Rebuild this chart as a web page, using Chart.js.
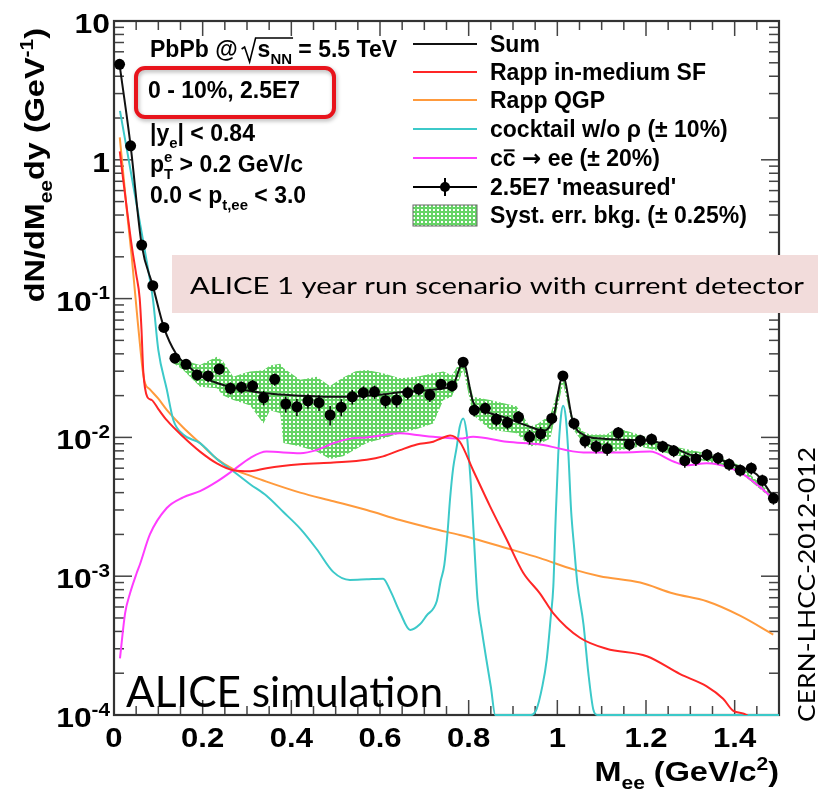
<!DOCTYPE html>
<html>
<head>
<meta charset="utf-8">
<script src="https://cdn.jsdelivr.net/npm/chart.js@4.4.1/dist/chart.umd.min.js"></script>
<style>
  body { margin: 0; background: #fff; }
  #wrap { width: 825px; height: 792px; position: relative; }
</style>
</head>
<body>
<div id="wrap"><canvas id="meeChart"></canvas></div>
<script>
// ---- data (M_ee in GeV/c2, dN/dMdy in 1/GeV) ----
const massBins = [
  0.0125, 0.0375, 0.0625, 0.0875, 0.1125, 0.1375, 0.1625, 0.1875, 0.2125, 0.2375,
  0.2625, 0.2875, 0.3125, 0.3375, 0.3625, 0.3875, 0.4125, 0.4375, 0.4625, 0.4875,
  0.5125, 0.5375, 0.5625, 0.5875, 0.6125, 0.6375, 0.6625, 0.6875, 0.7125, 0.7375,
  0.7625, 0.7875, 0.8125, 0.8375, 0.8625, 0.8875, 0.9125, 0.9375, 0.9625, 0.9875,
  1.0125, 1.0375, 1.0625, 1.0875, 1.1125, 1.1375, 1.1625, 1.1875, 1.2125, 1.2375,
  1.2625, 1.2875, 1.3125, 1.3375, 1.3625, 1.3875, 1.4125, 1.4375, 1.4625, 1.4875
];
const measured = [
  4.87, 1.26, 0.243, 0.124, 0.062, 0.0372, 0.0336, 0.0282, 0.0277, 0.0311,
  0.0226, 0.0230, 0.0235, 0.0193, 0.0262, 0.0174, 0.0166, 0.0183, 0.0178, 0.0145,
  0.0165, 0.0196, 0.0210, 0.0213, 0.0184, 0.0186, 0.0210, 0.0223, 0.0202, 0.0242,
  0.0235, 0.0348, 0.0157, 0.0162, 0.0135, 0.0128, 0.0140, 0.0101, 0.0106, 0.0137,
  0.0277, 0.0126, 0.0094, 0.0086, 0.0083, 0.0108, 0.0089, 0.0095, 0.0097, 0.0086,
  0.0080, 0.0068, 0.0070, 0.0075, 0.0071, 0.0064, 0.0058, 0.0060, 0.0049, 0.00364
];
// relative stat. error of each point
const measuredErr = [
  0.01, 0.02, 0.03, 0.04, 0.05, 0.07, 0.08, 0.09, 0.09, 0.09,
  0.10, 0.10, 0.10, 0.12, 0.10, 0.13, 0.14, 0.12, 0.13, 0.16,
  0.14, 0.12, 0.11, 0.11, 0.12, 0.12, 0.11, 0.10, 0.11, 0.09,
  0.09, 0.07, 0.10, 0.10, 0.11, 0.11, 0.10, 0.12, 0.12, 0.10,
  0.06, 0.10, 0.11, 0.11, 0.11, 0.10, 0.10, 0.10, 0.10, 0.10,
  0.10, 0.11, 0.11, 0.10, 0.10, 0.10, 0.10, 0.10, 0.10, 0.10
];

const sumM = [
  0.0125, 0.0375, 0.0625, 0.0875, 0.1125, 0.14, 0.17, 0.2, 0.25, 0.3,
  0.35, 0.4, 0.45, 0.5, 0.55, 0.6, 0.65, 0.7, 0.74, 0.765,
  0.7875, 0.81, 0.83, 0.88, 0.93, 0.97, 0.99, 1.0125, 1.035, 1.06,
  1.1, 1.15, 1.2, 1.25, 1.3, 1.35, 1.4, 1.45, 1.4875
];
const sumY = [
  4.87, 1.26, 0.243, 0.124, 0.062, 0.040, 0.032, 0.0272, 0.0237, 0.0218,
  0.0207, 0.0201, 0.0198, 0.0196, 0.0198, 0.0203, 0.0212, 0.0218, 0.0225, 0.0240,
  0.0348, 0.0180, 0.0158, 0.0140, 0.0122, 0.0112, 0.0135, 0.0277, 0.0130, 0.0104,
  0.0098, 0.0096, 0.0095, 0.0088, 0.0075, 0.0072, 0.0063, 0.0054, 0.0037
];

const rappSfM = [
  0.013, 0.02, 0.03, 0.04, 0.05, 0.058, 0.062, 0.066, 0.075, 0.085,
  0.1, 0.119, 0.156, 0.194, 0.232, 0.269, 0.307, 0.344, 0.42, 0.495,
  0.57, 0.607, 0.645, 0.683, 0.72, 0.74, 0.758, 0.78, 0.81, 0.848,
  0.886, 0.923, 0.961, 0.991, 1.051, 1.111, 1.202, 1.277, 1.337, 1.374,
  1.397, 1.427, 1.45
];
const rappSfY = [
  1.15, 0.75, 0.42, 0.24, 0.15, 0.10, 0.06, 0.030, 0.0196, 0.0186,
  0.016, 0.0133, 0.0101, 0.0079, 0.0065, 0.0058, 0.0057, 0.0060, 0.0064, 0.0066,
  0.0069, 0.0073, 0.0081, 0.0089, 0.0093, 0.0099, 0.0103, 0.0093, 0.0058, 0.0032,
  0.00183, 0.00106, 0.00075, 0.00054, 0.00036, 0.00030, 0.000265, 0.000197, 0.000161, 0.000131,
  0.000107, 0.0001, 0.00008
];

const rappQgpM = [
  0.013, 0.02, 0.03, 0.04, 0.053, 0.06, 0.065, 0.07, 0.081, 0.1,
  0.119, 0.156, 0.194, 0.232, 0.269, 0.307, 0.344, 0.42, 0.495, 0.57,
  0.645, 0.72, 0.78, 0.81, 0.886, 0.961, 1.036, 1.096, 1.187, 1.262,
  1.337, 1.412, 1.487
];
const rappQgpY = [
  1.45, 0.85, 0.40, 0.20, 0.071, 0.042, 0.030, 0.0245, 0.0222, 0.019,
  0.0158, 0.0118, 0.0091, 0.0070, 0.0059, 0.0053, 0.0048, 0.0040, 0.00347, 0.0030,
  0.00254, 0.0022, 0.00198, 0.00187, 0.00159, 0.00135, 0.00112, 0.00100, 0.00090, 0.00075,
  0.00066, 0.00052, 0.00038
];

const cocktailM = [
  0.0135, 0.03, 0.045, 0.06, 0.075, 0.088, 0.1, 0.119, 0.134, 0.156,
  0.194, 0.232, 0.269, 0.307, 0.344, 0.382, 0.42, 0.457, 0.495, 0.532,
  0.57, 0.607, 0.623, 0.645, 0.668, 0.69, 0.705, 0.728, 0.737, 0.745,
  0.752, 0.758, 0.765, 0.773, 0.78, 0.788, 0.795, 0.80, 0.807, 0.814,
  0.82, 0.83, 0.84, 0.85, 0.86, 0.94, 0.953, 0.966, 0.976, 0.985,
  0.991, 0.996, 1.002, 1.008, 1.013, 1.019, 1.025, 1.031, 1.038, 1.045,
  1.059, 1.07, 1.081, 1.09, 1.5
];
const cocktailY = [
  2.25, 1.14, 0.61, 0.33, 0.176, 0.098, 0.0426, 0.0222, 0.0133, 0.0105,
  0.0091, 0.0070, 0.0057, 0.0046, 0.0038, 0.0029, 0.0022, 0.00157, 0.00107, 0.00094,
  0.00095, 0.00096, 0.00079, 0.00055, 0.00041, 0.00045, 0.00052, 0.00066, 0.00093, 0.0012,
  0.002, 0.0036, 0.006, 0.0085, 0.012, 0.0137, 0.011, 0.0075, 0.0036, 0.0014,
  0.00068, 0.0004, 0.00025, 0.00016, 0.0001, 0.0001, 0.00011, 0.00016, 0.00025, 0.0005,
  0.00085, 0.0025, 0.0075, 0.014, 0.0169, 0.014, 0.0075, 0.003, 0.0016, 0.0009,
  0.00045, 0.0002, 0.00011, 0.0001, 0.0001
];

const charmM = [
  0.0135, 0.025, 0.036, 0.051, 0.059, 0.081, 0.119, 0.156, 0.194, 0.232,
  0.269, 0.307, 0.344, 0.42, 0.457, 0.495, 0.532, 0.57, 0.645, 0.683,
  0.72, 0.78, 0.81, 0.886, 0.961, 1.059, 1.149, 1.209, 1.262, 1.292,
  1.337, 1.36, 1.412, 1.457, 1.487
];
const charmY = [
  0.000256, 0.00054, 0.00075, 0.00105, 0.00123, 0.0020, 0.0031, 0.0037, 0.0041, 0.0048,
  0.0058, 0.0071, 0.0079, 0.0077, 0.0081, 0.0091, 0.0098, 0.0100, 0.0107, 0.0104,
  0.0101, 0.0098, 0.0101, 0.0093, 0.0089, 0.0078, 0.0078, 0.0079, 0.0067, 0.0063,
  0.0065, 0.0064, 0.0056, 0.0044, 0.0036
];

const bandM = [
  0.13, 0.156, 0.194, 0.232, 0.246, 0.269, 0.292, 0.307, 0.337, 0.352,
  0.375, 0.382, 0.42, 0.457, 0.487, 0.517, 0.545, 0.57, 0.607, 0.645,
  0.683, 0.72, 0.743, 0.762, 0.788, 0.81, 0.848, 0.908, 0.938, 0.955,
  0.984, 1.013, 1.036, 1.059, 1.074, 1.111, 1.134, 1.187, 1.262, 1.337,
  1.412, 1.484
];
const bandHi = [
  0.040, 0.036, 0.0332, 0.0381, 0.0353, 0.0274, 0.029, 0.0298, 0.0305, 0.033,
  0.034, 0.0316, 0.0260, 0.0274, 0.0235, 0.027, 0.030, 0.0306, 0.0290, 0.0267,
  0.0274, 0.0290, 0.0298, 0.028, 0.0381, 0.0196, 0.0186, 0.0168, 0.0120, 0.0125,
  0.0145, 0.0290, 0.0133, 0.0110, 0.0105, 0.0105, 0.0117, 0.0104, 0.0086, 0.0077,
  0.0063, 0.0039
];
const bandLo = [
  0.035, 0.0306, 0.0232, 0.0226, 0.020, 0.0186, 0.0176, 0.0170, 0.0126, 0.0157,
  0.0149, 0.0091, 0.0086, 0.0079, 0.0070, 0.0073, 0.0082, 0.0091, 0.0098, 0.0107,
  0.0115, 0.0126, 0.0186, 0.0196, 0.0306, 0.0145, 0.0114, 0.0107, 0.0086, 0.0088,
  0.0098, 0.0245, 0.0114, 0.0090, 0.0084, 0.0075, 0.0080, 0.0086, 0.0075, 0.0067,
  0.0056, 0.0036
];

const xTickValues = [0, 0.2, 0.4, 0.6, 0.8, 1.0, 1.2, 1.4];
const xTickText = ['0', '0.2', '0.4', '0.6', '0.8', '1', '1.2', '1.4'];
const yTickValues = [10, 1, 0.1, 0.01, 0.001, 0.0001];
const yTickBase = ['10', '1', '10', '10', '10', '10'];
const yTickExp = ['', '', '-1', '-2', '-3', '-4'];

const legendText = ['Sum', 'Rapp in-medium SF', 'Rapp QGP', 'cocktail w/o \u03c1 (\u00b1 10%)',
  'cc\u0304 \u2192 ee (\u00b1 20%)', "2.5E7 'measured'", 'Syst. err. bkg. (\u00b1 0.25%)'];

// ---- styling ----
const ROOT_FONT = '"Liberation Sans", Arial, Helvetica, sans-serif';
const CAL_FONT = 'Lato, "Open Sans", sans-serif';
const colSum = '#111111';
const colRed = '#ff2626';
const colOrange = '#ff9a3c';
const colCyan = '#3cc9c9';
const colMagenta = '#ff3cff';

function pts(xs, ys) {
  return xs.map(function (x, i) { return { x: x, y: ys[i] }; });
}

function makeHatch() {
  const c = document.createElement('canvas');
  c.width = 4; c.height = 4;
  const g = c.getContext('2d');
  g.fillStyle = '#66d466';
  g.fillRect(0, 0, 4, 4);
  g.fillStyle = '#ffffff';
  g.fillRect(1, 1, 2, 2);
  return g.createPattern(c, 'repeat');
}
const hatch = makeHatch();

// text with sub/superscripts, ROOT style
function drawRich(ctx, parts, x, y, size, opt) {
  opt = opt || {};
  const sx = opt.sx || 1;
  let w = 0;
  parts.forEach(function (p) {
    p.s = (p.sub || p.sup) ? size * 0.65 : size;
    p.f = 'bold ' + p.s + 'px ' + (p.font || ROOT_FONT);
    ctx.font = p.f;
    p.w = ctx.measureText(p.t).width;
    if (!p.stack) w += p.w;
  });
  ctx.save();
  ctx.translate(x, y);
  if (opt.rot) ctx.rotate(opt.rot);
  ctx.scale(sx, 1);
  ctx.fillStyle = '#000';
  ctx.strokeStyle = '#000';
  ctx.textAlign = 'left';
  ctx.textBaseline = 'alphabetic';
  let cx = opt.align === 'right' ? -w : (opt.align === 'center' ? -w / 2 : 0);
  parts.forEach(function (p) {
    ctx.font = p.f;
    const dy = p.sub ? size * 0.3 : (p.sup ? -size * 0.42 : 0);
    ctx.fillText(p.t, cx, dy);
    if (p.over) {
      ctx.lineWidth = 2;
      line(ctx, cx + 1, dy - size * 0.68, cx + p.w - 1, dy - size * 0.68);
    }
    if (!p.stack) cx += p.w;
  });
  ctx.restore();
  return w * sx;
}

// slide-style text stretched to the width seen in the picture
function drawWide(ctx, text, x, y, size, width, rot) {
  ctx.save();
  ctx.font = size + 'px ' + CAL_FONT;
  const w = ctx.measureText(text).width;
  ctx.translate(x, y);
  if (rot) ctx.rotate(rot);
  ctx.scale(width / w, 1);
  ctx.fillStyle = '#000';
  ctx.textAlign = 'left';
  ctx.textBaseline = 'alphabetic';
  ctx.fillText(text, 0, 0);
  ctx.restore();
}

function line(ctx, x1, y1, x2, y2) {
  ctx.beginPath();
  ctx.moveTo(x1, y1);
  ctx.lineTo(x2, y2);
  ctx.stroke();
}

const frameTicks = {
  id: 'frameTicks',
  beforeDatasetsDraw(chart) {
    const ctx = chart.ctx;
    const a = chart.chartArea;
    const x = chart.scales.x, y = chart.scales.y;
    ctx.save();
    ctx.strokeStyle = '#444';
    ctx.lineWidth = 1.5;
    for (let i = 0; i <= 30; i++) {
      const px = x.getPixelForValue(i * 0.05);
      const len = i % 4 === 0 ? 15 : 9;
      line(ctx, px, a.bottom, px, a.bottom - len);
      line(ctx, px, a.top, px, a.top + len);
    }
    for (let d = -4; d <= 1; d++) {
      for (let m = 1; m <= 9; m++) {
        if (d === 1 && m > 1) break;
        const py = y.getPixelForValue(m * Math.pow(10, d));
        const len = m === 1 ? 18 : 10;
        line(ctx, a.left, py, a.left + len, py);
        line(ctx, a.right, py, a.right - len, py);
      }
    }
    ctx.lineWidth = 2.2;
    ctx.strokeStyle = '#333';
    ctx.strokeRect(a.left, a.top, a.right - a.left, a.bottom - a.top);
    ctx.restore();
  }
};

const errorBars = {
  id: 'errorBars',
  afterDatasetsDraw(chart) {
    const ctx = chart.ctx;
    const x = chart.scales.x, y = chart.scales.y;
    ctx.save();
    ctx.strokeStyle = '#000';
    ctx.lineWidth = 1.5;
    massBins.forEach(function (m, i) {
      const px = x.getPixelForValue(m);
      line(ctx, px, y.getPixelForValue(measured[i] * (1 + measuredErr[i])),
        px, y.getPixelForValue(measured[i] * (1 - measuredErr[i])));
    });
    ctx.restore();
  }
};

const labelsAndText = {
  id: 'labelsAndText',
  afterDraw(chart) {
    const ctx = chart.ctx;
    const a = chart.chartArea;
    const x = chart.scales.x, y = chart.scales.y;

    // tick labels
    xTickValues.forEach(function (v, i) {
      drawRich(ctx, [{ t: xTickText[i] }], x.getPixelForValue(v), a.bottom + 32, 27, { align: 'center', sx: 1.15 });
    });
    yTickValues.forEach(function (v, i) {
      const parts = [{ t: yTickBase[i] }];
      if (yTickExp[i]) parts.push({ t: yTickExp[i], sup: true });
      drawRich(ctx, parts, a.left - 4, y.getPixelForValue(v) + 12, 27, { align: 'right', sx: 1.18 });
    });

    // axis titles
    drawRich(ctx, [{ t: 'M' }, { t: 'ee', sub: true }, { t: ' (GeV/c' }, { t: '2', sup: true }, { t: ')' }],
      a.right, 781, 27, { align: 'right', sx: 1.2 });
    drawRich(ctx, [{ t: 'dN/dM' }, { t: 'ee', sub: true }, { t: 'dy (GeV' }, { t: '-1', sup: true }, { t: ')' }],
      44, 28, 27, { align: 'right', sx: 1.2, rot: -Math.PI / 2 });

    // info block
    const base = 57;
    const w1 = drawRich(ctx, [{ t: 'PbPb @' }], 150, base, 23);
    const rx = 150 + w1 + 4;
    ctx.save();
    ctx.font = 'bold 23px ' + ROOT_FONT;
    const sW = ctx.measureText('s').width;
    ctx.font = 'bold 15px ' + ROOT_FONT;
    const nW = ctx.measureText('NN').width;
    ctx.strokeStyle = '#000';
    ctx.lineWidth = 1.6;
    ctx.beginPath();
    ctx.moveTo(rx, base - 8);
    ctx.lineTo(rx + 3, base - 10);
    ctx.lineTo(rx + 8, base + 5);
    ctx.lineTo(rx + 14, base - 19);
    ctx.lineTo(rx + 16 + sW + nW + 1, base - 19);
    ctx.stroke();
    ctx.restore();
    drawRich(ctx, [{ t: 's' }, { t: 'NN', sub: true }, { t: ' = 5.5 TeV' }], rx + 16, base, 23);
    drawRich(ctx, [{ t: '0 - 10%, 2.5E7' }], 148, 98, 23);
    drawRich(ctx, [{ t: '|y' }, { t: 'e', sub: true }, { t: '| < 0.84' }], 150, 141, 23);
    drawRich(ctx, [{ t: 'p' }, { t: 'e', sup: true, stack: true }, { t: 'T', sub: true }, { t: ' > 0.2 GeV/c' }], 150, 172, 23);
    drawRich(ctx, [{ t: '0.0 < p' }, { t: 't,ee', sub: true }, { t: ' < 3.0' }], 150, 203, 23);

    // red highlight box
    ctx.save();
    ctx.shadowColor = 'rgba(0,0,0,0.3)';
    ctx.shadowBlur = 4;
    ctx.shadowOffsetX = 1;
    ctx.shadowOffsetY = 2;
    ctx.strokeStyle = '#e8141c';
    ctx.lineWidth = 4;
    ctx.beginPath();
    ctx.roundRect(136, 68, 198, 49, 9);
    ctx.stroke();
    ctx.restore();

    // legend
    const rows = [44, 72, 100, 129, 158, 187, 215];
    const lineColors = [colSum, colRed, colOrange, colCyan, colMagenta, '#000'];
    ctx.save();
    rows.forEach(function (ry, i) {
      ctx.lineWidth = 2;
      if (i < 6) {
        ctx.strokeStyle = lineColors[i];
        line(ctx, 413, ry, 477, ry);
      }
      if (i === 5) {
        ctx.fillStyle = '#000';
        ctx.beginPath();
        ctx.arc(445, ry, 5, 0, Math.PI * 2);
        ctx.fill();
        line(ctx, 445, ry - 9, 445, ry + 9);
      }
      if (i === 6) {
        ctx.fillStyle = hatch;
        ctx.fillRect(413, ry - 10, 64, 21);
        ctx.strokeStyle = '#666';
        ctx.lineWidth = 1;
        ctx.strokeRect(413, ry - 10, 64, 21);
      }
      if (i === 4) {
        drawRich(ctx, [{ t: 'c' }, { t: 'c', over: true }, { t: ' ' },
          { t: '\u2192', font: '"DejaVu Sans", sans-serif' }, { t: ' ee (\u00b1 20%)' }], 490, ry + 8, 23);
      } else {
        drawRich(ctx, [{ t: legendText[i] }], 490, ry + 8, 23);
      }
    });
    ctx.restore();

    // slide annotations
    ctx.save();
    ctx.fillStyle = '#f2dcdb';
    ctx.fillRect(172, 255, 646, 58);
    ctx.restore();
    drawWide(ctx, 'ALICE 1 year run scenario with current detector', 190, 294, 24, 614);
    drawWide(ctx, 'ALICE simulation', 126, 707, 42, 317);
    drawWide(ctx, 'CERN-LHCC-2012-012', 815, 722, 23, 275, -Math.PI / 2);
  }
};

const curve = function (label, data, color) {
  return {
    label: label, data: data, borderColor: color, borderWidth: 2,
    pointRadius: 0, fill: false, cubicInterpolationMode: 'monotone'
  };
};

const cocktailSet = curve(legendText[3], pts(cocktailM, cocktailY), colCyan);
cocktailSet.clip = { left: 2, top: 2, right: 2, bottom: 3 };

new Chart(document.getElementById('meeChart'), {
  type: 'line',
  data: {
    datasets: [
      {
        label: legendText[5], data: pts(massBins, measured), showLine: false,
        pointRadius: 5.5, pointBackgroundColor: '#000', pointBorderColor: '#000', pointBorderWidth: 0
      },
      curve(legendText[0], pts(sumM, sumY), colSum),
      curve(legendText[1], pts(rappSfM, rappSfY), colRed),
      curve(legendText[4], pts(charmM, charmY), colMagenta),
      cocktailSet,
      curve(legendText[2], pts(rappQgpM, rappQgpY), colOrange),
      {
        label: legendText[6], data: pts(bandM, bandHi), borderWidth: 0, pointRadius: 0,
        fill: '+1', backgroundColor: hatch, tension: 0
      },
      { label: 'bandLo', data: pts(bandM, bandLo), borderWidth: 0, pointRadius: 0, fill: false, tension: 0 }
    ]
  },
  options: {
    responsive: true,
    maintainAspectRatio: false,
    animation: false,
    layout: { padding: { top: 21, right: 46, left: 0, bottom: 0 } },
    plugins: { legend: { display: false }, tooltip: { enabled: false } },
    scales: {
      x: {
        type: 'linear', min: 0, max: 1.5,
        grid: { display: false }, border: { display: false }, ticks: { display: false },
        afterFit: function (s) { s.height = 77; }
      },
      y: {
        type: 'logarithmic', min: 0.0001, max: 10,
        grid: { display: false }, border: { display: false }, ticks: { display: false },
        afterFit: function (s) { s.width = 114; }
      }
    }
  },
  plugins: [frameTicks, errorBars, labelsAndText]
});
</script>
</body>
</html>
